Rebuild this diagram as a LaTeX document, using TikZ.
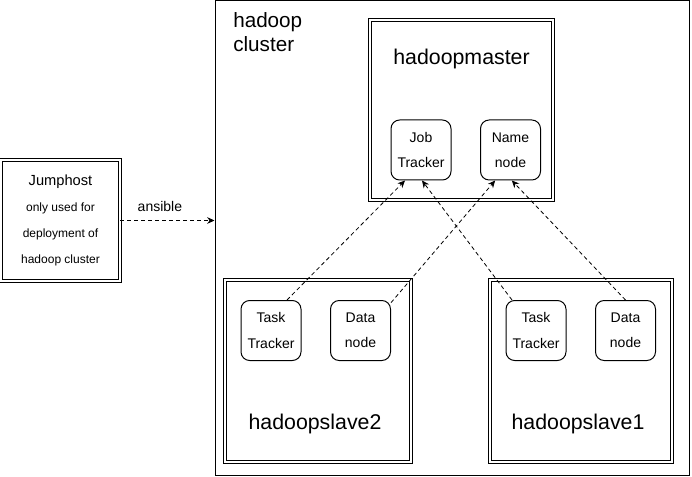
\documentclass[tikz,border=0pt]{standalone}
\usepackage{fontspec}
\setmainfont{Liberation Sans}
\usetikzlibrary{arrows.meta,positioning,calc}

\tikzset{
	dbox/.style={draw, double, line width=0.6pt, double distance=1.2pt, inner sep=0pt},
	svc/.style={draw, rounded corners=6.5pt, line width=0.75pt, align=center, inner sep=0pt,
		minimum width=45pt, minimum height=45pt, font=\fontsize{10.5}{19}\selectfont},
	biglabel/.style={inner sep=0pt, font=\fontsize{16}{19}\selectfont},
	link/.style={-{Stealth[length=5.5pt,width=5pt]}, dash pattern=on 3pt off 2.25pt, line width=0.6pt},
}

\begin{document}
\begin{tikzpicture}[x=0.75pt, y=-0.75pt]
	\useasboundingbox (0,0) rectangle (692,477);

	% cluster and its hosts
	\node[draw, line width=0.75pt, minimum width=355.5pt, minimum height=355.5pt] (cluster) at (452,238) {};
	\node[biglabel, anchor=west, align=left, font=\fontsize{15.5}{18}\selectfont] (cl) at (233,32.5) {hadoop\\cluster};

	\node[dbox, minimum width=137.25pt, minimum height=135pt] (master) at (461.5,110) {};
	\node[biglabel] (ml) at (461.5,59) {hadoopmaster};
	\node[svc] (jt) at (421,150) {Job\\Tracker};
	\node[svc] (nn) at (510.5,150) {Name\\node};

	\node[dbox, minimum width=139.5pt, minimum height=136.5pt] (slave2) at (318,371) {};
	\node[biglabel] (s2l) at (315,423.5) {hadoopslave2};
	\node[svc] (tt2) at (271,330.5) {Task\\Tracker};
	\node[svc] (dn2) at (360.5,330.5) {Data\\node};

	\node[dbox, minimum width=136.5pt, minimum height=136.5pt] (slave1) at (581,371) {};
	\node[biglabel] (s1l) at (578,423.5) {hadoopslave1};
	\node[svc] (tt1) at (536,330.5) {Task\\Tracker};
	\node[svc] (dn1) at (625.5,330.5) {Data\\node};

	% jump host
	\node[dbox, minimum width=89.25pt, minimum height=90.75pt, align=center,
		font=\fontsize{9}{19.5}\selectfont] (jump) at (60.5,220.5)
		{{\fontsize{11}{19.5}\selectfont Jumphost}\\only used for\\deployment of\\hadoop cluster};

	\draw[link] (jump.east) -- node[pos=0.42, above=6pt, inner sep=0pt, font=\fontsize{10.5}{12}\selectfont] {ansible} (jump.east -| cluster.west);

	\draw[link] ([xshift=12pt]tt2.north) -- ([xshift=-12pt]jt.south);
	\draw[link] ([xshift=-18pt]tt1.north) -- ([xshift=0.75pt]jt.south);
	\draw[link] ([yshift=-2pt]dn2.north east) -- ([xshift=-11.5pt]nn.south);
	\draw[link] (dn1.north) -- ([xshift=1pt]nn.south);

\end{tikzpicture}
\end{document}
